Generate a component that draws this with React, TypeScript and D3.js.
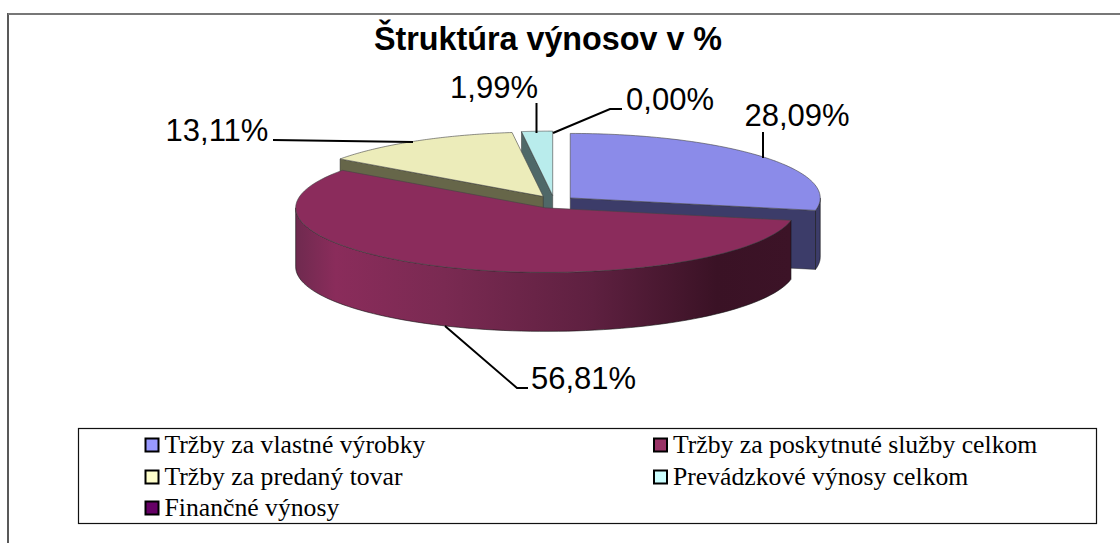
import React from "react";
import * as d3 from "d3";

const categories = ["Tržby za vlastné výrobky", "Tržby za poskytnuté služby celkom", "Tržby za predaný tovar", "Prevádzkové výnosy celkom", "Finančné výnosy"];
const values = [28.09, 56.81, 13.11, 1.99, 0.0];
const valueLabels = ["28,09%", "56,81%", "13,11%", "1,99%", "0,00%"];
const topColors = ["#8b8be9", "#8b2c5c", "#ececba", "#b9ecec", "#5c0a5c"];
const wallColors = ["#3c3c69", "#7d2a54", "#666649", "#4f6868", "#30052f"];
const legendColors = ["#9999ff", "#993366", "#ffffcc", "#ccffff", "#660066"];
const legendX = [145.5, 654, 145.5, 654, 145.5];
const legendY = [445, 445, 477, 477, 508];
const labelPos: [number, number][] = [
  [797, 126],
  [583.5, 389],
  [217, 141],
  [494, 98],
  [670, 110],
];
const leaders: [number, number][][] = [
  [[763, 158], [763, 132]],
  [[445, 326], [517, 388], [528, 388]],
  [[413, 142], [273, 140]],
  [[536.5, 133], [536.5, 103]],
  [[553, 133], [610, 109], [622, 109]],
];

const CX = 554, CY = 202, RX = 250, RY = 64.5, DEPTH = 59, EX = 21, EY = 6.4;

const arcs = d3.pie<number>().sort(null).startAngle(0).endAngle(2 * Math.PI)(values);
const pt = (c: [number, number], a: number, dy = 0): [number, number] => [c[0] + RX * Math.sin(a), c[1] - RY * Math.cos(a) + dy];
const line = d3.line();

function arcPath(c: [number, number], a0: number, a1: number, dy = 0) {
  const n = 80;
  return d3.range(n + 1).map((i) => pt(c, a0 + ((a1 - a0) * i) / n, dy));
}

function Slice({ i }: { i: number }) {
  const { startAngle: a0, endAngle: a1 } = arcs[i];
  if (a1 - a0 <= 0) return null;
  const mid = (a0 + a1) / 2;
  const c: [number, number] = [CX + EX * Math.sin(mid), CY - EY * Math.cos(mid)];
  const top = [c, ...arcPath(c, a0, a1)] as [number, number][];
  const wall = (a: number) =>
    [c, pt(c, a), pt(c, a, DEPTH), [c[0], c[1] + DEPTH]] as [number, number][];
  const f0 = Math.max(a0, Math.PI / 2), f1 = Math.min(a1, (3 * Math.PI) / 2);
  const hasOuter = f1 > f0;
  const outer = hasOuter
    ? [...arcPath(c, f0, f1), ...arcPath(c, f0, f1, DEPTH).reverse()]
    : [];
  const outerFill = i === 1 ? "url(#maroonWall)" : wallColors[i];
  return (
    <g>
      {Math.sin(a0) < -1e-6 && <path d={line(wall(a0)) + "Z"} fill={wallColors[i]} stroke="#333" strokeWidth={0.5} />}
      {Math.sin(a1) > 1e-6 && <path d={line(wall(a1)) + "Z"} fill={wallColors[i]} stroke="#333" strokeWidth={0.5} />}
      {hasOuter && <path d={line(outer as [number, number][]) + "Z"} fill={outerFill} stroke="#111" strokeWidth={0.6} />}
      <path d={line(top) + "Z"} fill={topColors[i]} stroke="#444" strokeWidth={0.6} />
    </g>
  );
}

export default function App() {
  return (
    <svg width={1120} height={543} style={{ position: "fixed", left: 0, top: 0, background: "#fff" }}>
      <defs>
        <linearGradient id="maroonWall" x1="296" x2="791" y1="0" y2="0" gradientUnits="userSpaceOnUse">
          <stop offset="0" stopColor="#6f2a4f" />
          <stop offset="0.08" stopColor="#8a2c5b" />
          <stop offset="0.3" stopColor="#7a2a52" />
          <stop offset="0.6" stopColor="#5e2040" />
          <stop offset="0.85" stopColor="#3a1225" />
          <stop offset="1" stopColor="#3c1327" />
        </linearGradient>
      </defs>
      <line x1={8} x2={8} y1={13} y2={543} stroke="#222" strokeWidth={1.5} />
      <line x1={8} x2={1120} y1={14} y2={14} stroke="#777" strokeWidth={2} />
      <text x={548} y={50} textAnchor="middle" fontFamily="Liberation Sans" fontWeight="bold" fontSize={32.3} fill="#000">Štruktúra výnosov v %</text>
      {[0, 3, 2, 1].map((i) => <Slice key={i} i={i} />)}
      {leaders.map((l, i) => (
        <path key={i} d={line(l) || ""} fill="none" stroke="#000" strokeWidth={2} />
      ))}
      {valueLabels.map((t, i) => (
        <text key={i} x={labelPos[i][0]} y={labelPos[i][1]} textAnchor="middle" fontFamily="Liberation Sans" fontSize={31} fill="#000">{t}</text>
      ))}
      <rect x={78.5} y={428.5} width={1018} height={95} fill="#fff" stroke="#111" strokeWidth={1.2} />
      {categories.map((t, i) => (
        <g key={i}>
          <rect x={legendX[i]} y={legendY[i] - 6.5} width={13} height={13} fill={legendColors[i]} stroke="#000" strokeWidth={2} />
          <text x={legendX[i] + 19} y={legendY[i] + 8} fontFamily="Liberation Serif" fontSize={25.7} fill="#000">{t}</text>
        </g>
      ))}
    </svg>
  );
}
